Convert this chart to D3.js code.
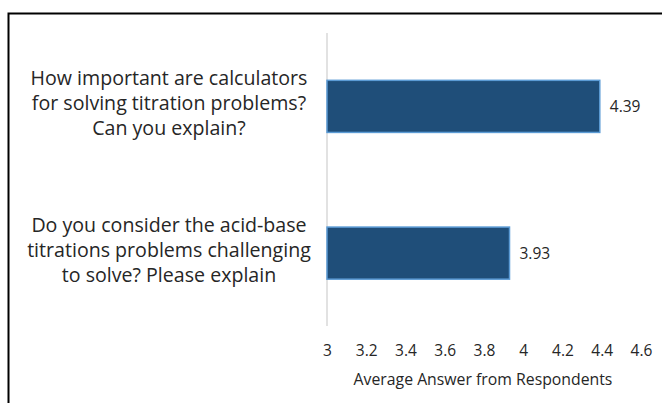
<!DOCTYPE html>
<html>
<head>
<meta charset="utf-8">
<script src="https://cdn.jsdelivr.net/npm/d3@7"></script>
<style>
  html, body { margin: 0; padding: 0; background: #fff; }
  svg { display: block; }
  text { font-family: "Open Sans", "Liberation Sans", sans-serif; fill: #262626; }
</style>
</head>
<body>
<svg id="chart" width="662" height="403"></svg>
<script>
// Survey questions (each split into display lines) and their average answers
const questions = [
  ["How important are calculators", "for solving titration problems?", "Can you explain?"],
  ["Do you consider the acid-base", "titrations problems challenging", "to solve? Please explain"]
];
const averages = [4.39, 3.93];
const tickValues = [3, 3.2, 3.4, 3.6, 3.8, 4, 4.2, 4.4, 4.6];
const axisTitle = "Average Answer from Respondents";

const svg = d3.select("#chart");

// outer frame
svg.append("rect")
  .attr("x", 8.5).attr("y", 13.5)
  .attr("width", 700).attr("height", 450)
  .attr("fill", "none").attr("stroke", "#000").attr("stroke-width", 2);

const x = d3.scaleLinear().domain([3, 4.6]).range([327, 641]);
const y = d3.scaleBand()
  .domain(d3.range(averages.length))
  .range([33, 326.5])
  .paddingInner(0.645)
  .paddingOuter(0.3225);

// category axis line
svg.append("line")
  .attr("x1", x(3)).attr("x2", x(3))
  .attr("y1", 33).attr("y2", 326)
  .attr("stroke", "#d9d9d9").attr("stroke-width", 1.5);

// bars
svg.selectAll("rect.bar")
  .data(averages)
  .join("rect")
  .attr("class", "bar")
  .attr("x", x(3))
  .attr("y", (d, i) => y(i))
  .attr("width", d => x(d) - x(3))
  .attr("height", y.bandwidth())
  .attr("fill", "#1f4e79")
  .attr("stroke", "#5b9bd5")
  .attr("stroke-width", 1.5);

// value labels
svg.selectAll("text.value")
  .data(averages)
  .join("text")
  .attr("class", "value")
  .attr("x", d => x(d) + 10)
  .attr("y", (d, i) => y(i) + y.bandwidth() / 2)
  .attr("dy", "0.35em")
  .attr("font-size", 15.5)
  .text(d => d.toFixed(2));

// category labels, centred multi-line
questions.forEach((lines, i) => {
  const cy = y(i) + y.bandwidth() / 2 - 3;
  const t = svg.append("text")
    .attr("text-anchor", "middle")
    .attr("font-size", 19.6);
  lines.forEach((ln, j) => {
    t.append("tspan")
      .attr("x", 169)
      .attr("y", cy + (j - (lines.length - 1) / 2) * 25)
      .attr("dy", "0.35em")
      .text(ln);
  });
});

// value axis (no line, labels only)
const xAxis = d3.axisBottom(x)
  .tickValues(tickValues)
  .tickSize(0)
  .tickPadding(0)
  .tickFormat(d3.format("~g"));
const gx = svg.append("g")
  .attr("transform", "translate(0,345)")
  .call(xAxis);
gx.select(".domain").remove();
gx.selectAll("text")
  .attr("font-size", 15.5)
  .attr("font-family", "'Open Sans', 'Liberation Sans', sans-serif")
  .attr("fill", "#262626");

svg.append("text")
  .attr("x", (353 + 613) / 2)
  .attr("y", 379)
  .attr("dy", "0.35em")
  .attr("text-anchor", "middle")
  .attr("font-size", 15.8)
  .text(axisTitle);
</script>
</body>
</html>
